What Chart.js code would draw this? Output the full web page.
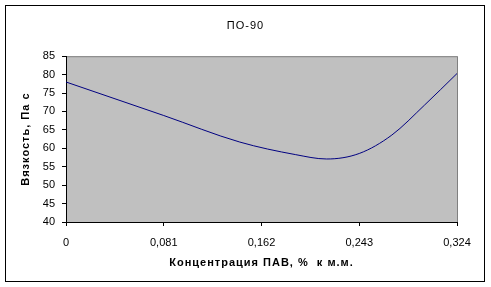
<!DOCTYPE html>
<html>
<head>
<meta charset="utf-8">
<script src="https://cdn.jsdelivr.net/npm/chart.js@4"></script>
<style>
  html, body { margin: 0; padding: 0; background: #fff; }
  #wrap { width: 491px; height: 287px; }
</style>
</head>
<body>
<div id="wrap"><canvas id="chart" width="491" height="287"></canvas></div>
<script>
/* ===================== DATA ===================== */

const concentration = [0, 0.081, 0.144, 0.19, 0.216, 0.243, 0.27, 0.297, 0.324];
const viscosity     = [78, 68.9, 61.7, 58.3, 57.1, 58.6, 63.6, 71.7, 80.3];

const xTicks = [0, 0.081, 0.162, 0.243, 0.324];
const xTickLabels = ["0", "0,081", "0,162", "0,243", "0,324"];
const yTicks = [40, 45, 50, 55, 60, 65, 70, 75, 80, 85];

const chartTitle = "ПО-90";
const xTitle = "Концентрация ПАВ, %  к м.м.";
const yTitle = "Вязкость, Па с";

/* ===================== STYLE ===================== */

const FONT = "'Liberation Sans', Arial, sans-serif";

// the old Excel fonts are spaced wider: titles get some letter spacing,
// tick labels none
const origDrawLabels = Chart.Scale.prototype.drawLabels;
Chart.Scale.prototype.drawLabels = function (area) {
  const ctx = this.ctx;
  const prev = ctx.letterSpacing;
  ctx.letterSpacing = "0px";
  origDrawLabels.call(this, area);
  ctx.letterSpacing = prev;
};

// white page, black outer frame, grey plot area
const frame = {
  id: "frame",
  beforeDraw(chart) {
    const { ctx, chartArea: a } = chart;
    ctx.save();
    ctx.fillStyle = "#ffffff";
    ctx.fillRect(0, 0, chart.width, chart.height);
    ctx.strokeStyle = "#000000";
    ctx.lineWidth = 1;
    ctx.strokeRect(5.5, 5.5, 479, 276);
    ctx.fillStyle = "#c0c0c0";
    ctx.fillRect(a.left, a.top, a.right - a.left, a.bottom - a.top);
    ctx.strokeStyle = "#808080";
    ctx.strokeRect(a.left + 0.5, a.top + 0.5, a.right - a.left, a.bottom - a.top);
    ctx.restore();
    ctx.letterSpacing = "1px";
  },
};

const points = concentration.map((x, i) => ({ x, y: viscosity[i] }));

new Chart(document.getElementById("chart"), {
  type: "scatter",
  data: {
    datasets: [
      {
        data: points,
        showLine: true,
        borderColor: "#000080",
        borderWidth: 1,
        pointRadius: 0,
        cubicInterpolationMode: "monotone",
      },
    ],
  },
  options: {
    responsive: false,
    animation: false,
    events: [],
    layout: { padding: 0 },
    plugins: {
      legend: { display: false },
      tooltip: { enabled: false },
      title: {
        display: true,
        text: chartTitle,
        color: "#000",
        font: { family: FONT, size: 11, weight: "normal" },
        padding: { top: 19, bottom: 24 },
      },
    },
    scales: {
      x: {
        type: "linear",
        min: 0,
        max: 0.324,
        afterBuildTicks: (s) => { s.ticks = xTicks.map((v) => ({ value: v })); },
        afterFit: (s) => { s.height = 65; },
        ticks: {
          color: "#000",
          font: { family: FONT, size: 11 },
          padding: 10,
          maxRotation: 0,
          callback: (v) => xTickLabels[xTicks.indexOf(v)],
        },
        grid: { drawOnChartArea: false, drawTicks: true, tickLength: 4, color: "#000" },
        border: { display: true, color: "#000" },
        title: {
          display: true,
          text: xTitle,
          color: "#000",
          font: { family: FONT, size: 11, weight: "bold" },
          padding: { top: 0, bottom: 17 },
        },
      },
      y: {
        min: 40,
        max: 85,
        afterBuildTicks: (s) => { s.ticks = yTicks.map((v) => ({ value: v })); },
        afterFit: (s) => { s.width = 66; },
        ticks: {
          color: "#000",
          font: { family: FONT, size: 11 },
          padding: 7,
        },
        grid: { drawOnChartArea: false, drawTicks: true, tickLength: 4, color: "#000" },
        border: { display: true, color: "#000" },
        title: {
          display: true,
          text: yTitle,
          color: "#000",
          font: { family: FONT, size: 11, weight: "bold" },
          padding: { top: 19 },
        },
      },
      // empty right-hand box, keeps the plot off the right frame
      spacer: {
        type: "linear",
        position: "right",
        afterFit: (s) => { s.width = 34; },
        ticks: { display: false },
        grid: { display: false },
        border: { display: false },
      },
    },
  },
  plugins: [frame],
});
</script>
</body>
</html>
